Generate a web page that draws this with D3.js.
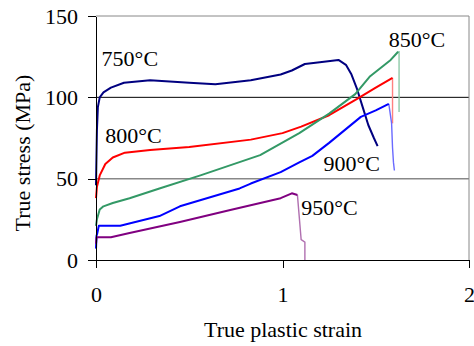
<!DOCTYPE html>
<html>
<head>
<meta charset="utf-8">
<script src="https://cdn.jsdelivr.net/npm/d3@7"></script>
<style>
  html, body { margin: 0; padding: 0; background: #fff; }
  svg { display: block; }
  svg text { font-family: "Liberation Serif", Tinos, "Times New Roman", "DejaVu Serif", serif !important; fill: #000; }
</style>
</head>
<body>
<svg id="chart" width="474" height="346"></svg>
<script>
// ---- data ----
const xTicks = [0, 1, 2];
const yTicks = [0, 50, 100, 150];

const s750Strain = [0, 0.005, 0.01, 0.02, 0.04, 0.08, 0.15, 0.29, 0.5, 0.64, 0.83, 0.99, 1.05, 1.12, 1.2, 1.3, 1.34, 1.37, 1.40, 1.43, 1.46, 1.49, 1.51];
const s750Stress = [46, 80, 94, 100, 103, 106, 109, 110.5, 109, 108, 110.5, 114, 116.5, 120.5, 121.5, 123, 120, 114, 105, 94, 83, 75, 70];

const s800Strain = [0, 0.005, 0.02, 0.05, 0.09, 0.155, 0.29, 0.5, 0.83, 1.0, 1.1, 1.25, 1.4, 1.5, 1.59];
const s800Stress = [38, 45, 52, 59, 63, 66, 67.6, 69.5, 74, 78, 82, 89, 99, 106, 112];
const s800DropStrain = [1.59, 1.59];
const s800DropStress = [112, 84];

const s850Strain = [0, 0.005, 0.02, 0.04, 0.09, 0.18, 0.34, 0.56, 0.88, 1.09, 1.25, 1.39, 1.47, 1.58, 1.62];
const s850Stress = [21, 25, 31, 33, 35, 38, 44, 52, 64.5, 78, 90, 102, 113, 123, 128];
const s850DropStrain = [1.62, 1.625, 1.625];
const s850DropStress = [128, 128, 91];

const s900Strain = [0, 0.003, 0.006, 0.015, 0.06, 0.13, 0.34, 0.45, 0.77, 0.83, 0.99, 1.09, 1.16, 1.25, 1.42, 1.5, 1.57];
const s900Stress = [7, 15, 16, 21, 21, 21, 27, 33, 44, 47, 54, 60, 64, 72, 88, 92, 96];
const s900DropStrain = [1.57, 1.585, 1.59, 1.595, 1.6];
const s900DropStress = [96, 84, 69, 60, 55];

const s950Strain = [0, 0.003, 0.08, 0.18, 0.45, 0.72, 0.99, 1.05, 1.08];
const s950Stress = [10, 14, 14, 16.6, 23.4, 30.7, 38, 41, 40];
const s950DropStrain = [1.08, 1.1, 1.12, 1.12];
const s950DropStress = [40, 12.5, 11, 0];

const seriesNames = ["750°C", "800°C", "850°C", "900°C", "950°C"];
const seriesColors = ["#000080", "#ff0000", "#339966", "#0000ff", "#800080"];
const dropColors = ["#000080", "#ff8080", "#8fcaa9", "#6a6aff", "#b070b0"];

// ---- build ----
const zip = (xs, ys) => xs.map((x, i) => [x, ys[i]]);
const series = [
  { main: zip(s750Strain, s750Stress), drop: null },
  { main: zip(s800Strain, s800Stress), drop: zip(s800DropStrain, s800DropStress) },
  { main: zip(s850Strain, s850Stress), drop: zip(s850DropStrain, s850DropStress) },
  { main: zip(s900Strain, s900Stress), drop: zip(s900DropStrain, s900DropStress) },
  { main: zip(s950Strain, s950Stress), drop: zip(s950DropStrain, s950DropStress) }
];
// label anchors in data units (left x, baseline y)
const labelStrain = [0.03, 0.05, 1.22, 1.22, 1.1];
const labelStress = [119, 72, 131, 55, 27.5];
labelStrain[2] = 1.57;

const svg = d3.select("#chart");
svg.append("rect").attr("width", 474).attr("height", 346).attr("fill", "#fff");

const x = d3.scaleLinear().domain([0, 2]).range([96, 469]);
const y = d3.scaleLinear().domain([0, 150]).range([260, 16]);
const FS = 22;
const FF = "'Liberation Serif', Tinos, 'Times New Roman', 'DejaVu Serif', serif";

// gridlines / frame
const gridColor = { 50: "#888", 100: "#000", 150: "#888" };
svg.append("g").selectAll("line").data([50, 100, 150]).join("line")
  .attr("x1", x(0)).attr("x2", x(2))
  .attr("y1", d => y(d)).attr("y2", d => y(d))
  .attr("stroke", d => gridColor[d])
  .attr("stroke-width", d => d === 50 ? 1.5 : 1);
svg.append("line")
  .attr("x1", x(2)).attr("x2", x(2)).attr("y1", y(150)).attr("y2", y(0))
  .attr("stroke", "#888").attr("stroke-width", 1);

// curves
const line = d3.line().x(d => x(d[0])).y(d => y(d[1]));
series.forEach((s, i) => {
  if (s.drop) {
    svg.append("path").attr("d", line(s.drop)).attr("fill", "none")
      .attr("stroke", dropColors[i]).attr("stroke-width", 1.4);
  }
  svg.append("path").attr("d", line(s.main)).attr("fill", "none")
    .attr("stroke", seriesColors[i]).attr("stroke-width", 2)
    .attr("stroke-linejoin", "round");
});

// axes
const xAxis = d3.axisBottom(x).tickValues(xTicks).tickSize(8).tickSizeOuter(0).tickPadding(18)
  .tickFormat(d3.format("d"));
const gx = svg.append("g").attr("transform", `translate(0,${y(0)})`).call(xAxis);
const yAxis = d3.axisLeft(y).tickValues(yTicks).tickSize(8).tickSizeOuter(0).tickPadding(10)
  .tickFormat(d3.format("d"));
const gy = svg.append("g").attr("transform", `translate(${x(0)},0)`).call(yAxis);
[gx, gy].forEach(g => {
  g.attr("font-family", FF).attr("font-size", FS);
  g.selectAll("path, line").attr("stroke", "#000").attr("stroke-width", 1).attr("shape-rendering", "crispEdges");
  g.selectAll("text").attr("font-size", FS).attr("font-family", FF).attr("fill", "#000");
});

// series labels
svg.append("g").selectAll("text").data(seriesNames).join("text")
  .attr("x", (d, i) => x(labelStrain[i]))
  .attr("y", (d, i) => y(labelStress[i]))
  .attr("font-size", FS).attr("font-family", FF)
  .text(d => d);

// axis titles
svg.append("text").attr("x", 283).attr("y", 337).attr("text-anchor", "middle")
  .attr("font-size", FS).attr("font-family", FF).text("True plastic strain");
svg.append("text").attr("transform", "translate(30,153) rotate(-90)").attr("text-anchor", "middle")
  .attr("font-size", FS).attr("font-family", FF).text("True stress (MPa)");
</script>
</body>
</html>
